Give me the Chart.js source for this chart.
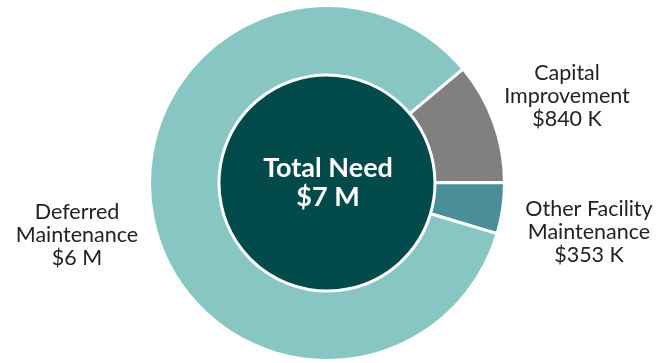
<!DOCTYPE html>
<html>
<head>
<meta charset="utf-8">
<script src="https://cdn.jsdelivr.net/npm/chart.js@4/dist/chart.umd.min.js"></script>
<style>
  html, body { margin: 0; padding: 0; background: #ffffff; }
  #wrap { width: 670px; height: 363px; position: relative; }
</style>
</head>
<body>
<div id="wrap"><canvas id="c" width="670" height="363"></canvas></div>
<script>
// ---- data ----
const categories = ["Capital Improvement", "Other Facility Maintenance", "Deferred Maintenance"];
const labelLines = [["Capital", "Improvement", "$840 K"], ["Other Facility", "Maintenance", "$353 K"], ["Deferred", "Maintenance", "$6 M"]];
const values = [840, 353, 6400];   // thousands of dollars (deferred)
const centerLines = ["Total Need", "$7 M"];
const totalValue = [values.reduce((a, b) => a + b, 0)];

// ---- styling ----
const sliceColors = ["#808080", "#4a8f98", "#88c6c3"];
const centerColor = "#034b4b";
const labelPos = [[567, 73], [589, 209], [77, 212]]; // centre of first line
const textColor = "#222222";
const labelFont = "21.5px Lato, 'Open Sans', sans-serif";
const centerFont = "bold 27px Lato, 'Open Sans', sans-serif";

const textPlugin = {
  id: 'textPlugin',
  afterDraw(chart) {
    const ctx = chart.ctx;
    ctx.save();
    ctx.textAlign = 'center';
    ctx.textBaseline = 'middle';
    // outer labels
    ctx.font = labelFont;
    ctx.fillStyle = textColor;
    labelLines.forEach((lines, i) => {
      const [x, y] = labelPos[i];
      lines.forEach((t, j) => ctx.fillText(t, x, y + j * 23));
    });
    // centre labels
    const arc = chart.getDatasetMeta(1).data[0];
    ctx.font = centerFont;
    ctx.fillStyle = "#ffffff";
    ctx.fillText(centerLines[0], arc.x + 1, arc.y - 15);
    ctx.fillText(centerLines[1], arc.x + 1, arc.y + 14);
    ctx.restore();
  }
};

new Chart(document.getElementById('c'), {
  type: 'doughnut',
  data: {
    labels: categories,
    datasets: [
      {
        data: values,
        backgroundColor: sliceColors,
        borderColor: "#ffffff",
        borderWidth: 3,
        weight: 69.5
      },
      {
        data: totalValue,
        backgroundColor: [centerColor],
        borderWidth: 0,
        weight: 108
      }
    ]
  },
  options: {
    responsive: false,
    animation: false,
    cutout: 0,
    rotation: 50,
    layout: { padding: { top: 4, bottom: 1, left: 0, right: 16 } },
    plugins: { legend: { display: false }, tooltip: { enabled: false } },
    events: []
  },
  plugins: [textPlugin]
});
</script>
</body>
</html>
